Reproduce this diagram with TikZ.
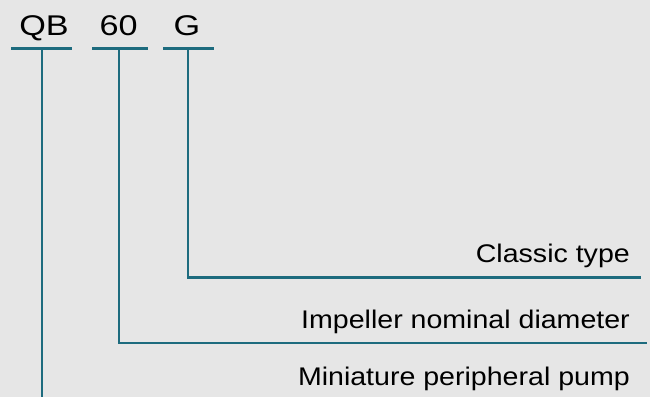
\documentclass[tikz,border=0pt]{standalone}
\usepackage{fontspec}
\setmainfont{Liberation Sans}
\definecolor{bgc}{HTML}{E6E6E6}
\definecolor{teal1}{HTML}{1D6B7E}
\newcommand{\codetxt}[1]{\scalebox{1.2}[1]{#1}}
\newcommand{\desctxt}[1]{\scalebox{1.12}[1]{#1}}
\begin{document}
\begin{tikzpicture}[x=1pt,y=-1pt,
  code/.style={font=\fontsize{28.5}{30}\selectfont, inner sep=0pt, anchor=base, text=black},
  desc/.style={font=\fontsize{25.5}{30}\selectfont, inner sep=0pt, anchor=base east, text=black},
  tline/.style={draw=teal1, line width=2.4pt, line cap=butt, line join=miter}]
\fill[bgc] (0,0) rectangle (650,397);
\useasboundingbox (0,0) rectangle (650,397);
% codes
\node[code] (qb) at (44,35.5) {\codetxt{QB}};
\node[code] (n60) at (118.7,35.5) {\codetxt{60}};
\node[code] (g) at (187,35.5) {\codetxt{G}};
% descriptions
\node[desc] (classic) at (630,262) {\desctxt{Classic type}};
\node[desc] (impeller) at (630,328) {\desctxt{Impeller nominal diameter}};
\node[desc] (mini) at (630,385) {\desctxt{Miniature peripheral pump}};
% underline coordinates
\coordinate (qbL) at (11,48.5);  \coordinate (qbR) at (72,48.5);
\coordinate (sxL) at (92,48.5);  \coordinate (sxR) at (148,48.5);
\coordinate (gL) at (163,48.5);  \coordinate (gR) at (214,48.5);
\coordinate (qbM) at (42,48.5);
\coordinate (sxM) at (119,48.5);
\coordinate (gM) at (188,48.5);
\coordinate (gEnd) at (641,277.5);
\coordinate (sxEnd) at (647,343);
\coordinate (qbEnd) at (42,397);
% underlines
\draw[tline] (qbL) -- (qbR);
\draw[tline] (sxL) -- (sxR);
\draw[tline] (gL) -- (gR);
% connectors
\draw[tline] (gM) |- (gEnd);
\draw[tline] (sxM) |- (sxEnd);
\draw[tline] (qbM) -- (qbEnd);
\end{tikzpicture}
\end{document}
